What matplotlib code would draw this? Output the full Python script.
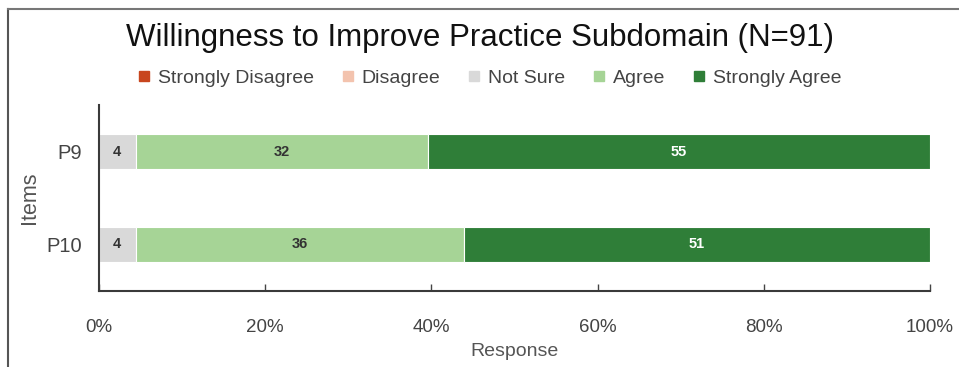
import matplotlib
matplotlib.use("Agg")
import matplotlib.pyplot as plt
from matplotlib.lines import Line2D
import numpy as np

items = ["P9", "P10"]
categories = ["Strongly Disagree", "Disagree", "Not Sure", "Agree", "Strongly Agree"]
strongly_disagree = [0, 0]
disagree = [0, 0]
not_sure = [4, 4]
agree = [32, 36]
strongly_agree = [55, 51]
n_total = 91
colors = ["#c8461e", "#f3c3ae", "#d9d9d9", "#a6d496", "#2f7e38"]
label_colors = ["white", "#333333", "#333333", "#333333", "white"]
xticks = [0, 20, 40, 60, 80, 100]

series = [strongly_disagree, disagree, not_sure, agree, strongly_agree]

plt.rcParams['font.family'] = ['Liberation Sans', 'DejaVu Sans']
fig = plt.figure(figsize=(9.59, 3.67), dpi=100)
ax = fig.add_axes([99/959, 1-291/367, (930-99)/959, 186/367])

y = np.arange(len(items))
left = np.zeros(len(items))
for cat, vals, col, lc in zip(categories, series, colors, label_colors):
    pct = np.array(vals) / n_total * 100
    ax.barh(y, pct, left=left, height=0.38, color=col, label=cat,
            edgecolor='white', linewidth=0.8)
    for i, (v, p) in enumerate(zip(vals, pct)):
        if v > 0:
            ax.text(left[i] + p/2, y[i], str(v), ha='center', va='center',
                    fontsize=10.5, fontweight='bold', color=lc)
    left += pct

ax.set_xlim(0, 100)
ax.set_ylim(1.5, -0.5)
ax.set_yticks(y)
ax.set_yticklabels(items, fontsize=14.5, color='#444444')
ax.set_xticks(xticks)
ax.set_xticklabels([f"{t}%" for t in xticks], fontsize=13.5, color='#444444')
ax.tick_params(axis='y', length=0, pad=12)
ax.tick_params(axis='x', direction='in', length=5, width=1, color='#444444', pad=20)
for s in ['top', 'right']:
    ax.spines[s].set_visible(False)
for s in ['left', 'bottom']:
    ax.spines[s].set_color('#3a3a3a')
    ax.spines[s].set_linewidth(1.5)
ax.set_xlabel("Response", fontsize=14, color='#555555', labelpad=5)
ax.set_ylabel("Items", fontsize=15.5, color='#555555', labelpad=5)

fig.text(0.5, 1-38/367, "Willingness to Improve Practice Subdomain (N=91)",
         ha='center', va='center', fontsize=22.5, color='#111111')

handles = [Line2D([0], [0], marker='s', linestyle='none', markersize=6.5,
                  markerfacecolor=c, markeredgecolor=c) for c in colors]
fig.legend(handles, categories, loc='center', bbox_to_anchor=(488/959, 1-78/367),
           ncol=5, frameon=False, fontsize=14, handletextpad=0.2,
           columnspacing=1.25, handlelength=1.0, labelcolor='#444444')

# outer frame (left and top edges)
fig.add_artist(Line2D([8/959, 8/959], [0, 1-9/367], transform=fig.transFigure,
                      color='#555555', linewidth=1.5))
fig.add_artist(Line2D([8/959, 1], [1-9/367, 1-9/367], transform=fig.transFigure,
                      color='#777777', linewidth=1.5))

fig.savefig("out.png", dpi=100)
